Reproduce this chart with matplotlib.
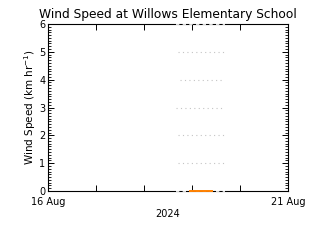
import numpy as np
import matplotlib
matplotlib.use("Agg")
import matplotlib.pyplot as plt
import matplotlib.dates as mdates
from matplotlib.ticker import MultipleLocator
import datetime as dt

# hours after 16 Aug 2024 00:00
wind_hours = [71, 72, 73, 74, 75, 76, 77, 78, 79, 80, 81, 82]
wind_speed = [0, 0, 0, 0, 0, 0, 0, 0, 0, 0, 0, 0]
grid_start_hours = [65, 65, 64, 66, 65]
grid_end_hours = [89, 89, 88, 88, 89]
grid_levels = [1, 2, 3, 4, 5]
span_hours = [64, 88.5]

start = dt.datetime(2024, 8, 16)
end = dt.datetime(2024, 8, 21)
to_time = lambda h: start + dt.timedelta(hours=h)

plt.rcParams["font.family"] = ["DejaVu Sans"]
fig = plt.figure(figsize=(3.2, 2.4), dpi=100)
ax = fig.add_axes([48/320, 1 - 191/240, 240/320, 167/240])

for lvl, h0, h1 in zip(grid_levels, grid_start_hours, grid_end_hours):
    ax.plot([to_time(h0), to_time(h1)], [lvl, lvl], color="#c4c4c4",
            linewidth=0.8, linestyle=(0, (1, 3)))

# data coverage marker on top and bottom spines
for yv in [0, 6]:
    ax.plot([to_time(span_hours[0]), to_time(span_hours[1])], [yv, yv],
            color="white", linewidth=1.2, linestyle=(0, (2, 2)),
            clip_on=False, zorder=5)

ax.plot([to_time(h) for h in wind_hours], wind_speed, color="#ff8000",
        linewidth=1.4, clip_on=False, zorder=6)

ax.set_xlim(start, end)
ax.set_ylim(0, 6)
ax.set_xticks([start + dt.timedelta(days=i) for i in range(6)])
ax.set_xticklabels(["16 Aug", "", "", "", "", "21 Aug"], fontsize=7)
ax.yaxis.set_major_locator(MultipleLocator(1))
ax.yaxis.set_minor_locator(MultipleLocator(0.1))
ax.tick_params(axis="y", labelsize=7, direction="in", right=True,
               length=4, width=0.7, pad=2)
ax.tick_params(axis="y", which="minor", direction="in", right=True,
               length=2, width=0.6)
ax.tick_params(axis="x", direction="in", top=True, length=4, width=0.7, pad=4)
for s in ax.spines.values():
    s.set_linewidth(0.8)

ax.set_xlabel("2024", fontsize=7, labelpad=2)
ax.set_ylabel("Wind Speed (km hr$^{-1}$)", fontsize=7.5, labelpad=1)
ax.set_title("Wind Speed at Willows Elementary School", fontsize=8.8, pad=4)

fig.savefig("out.png", dpi=100)
